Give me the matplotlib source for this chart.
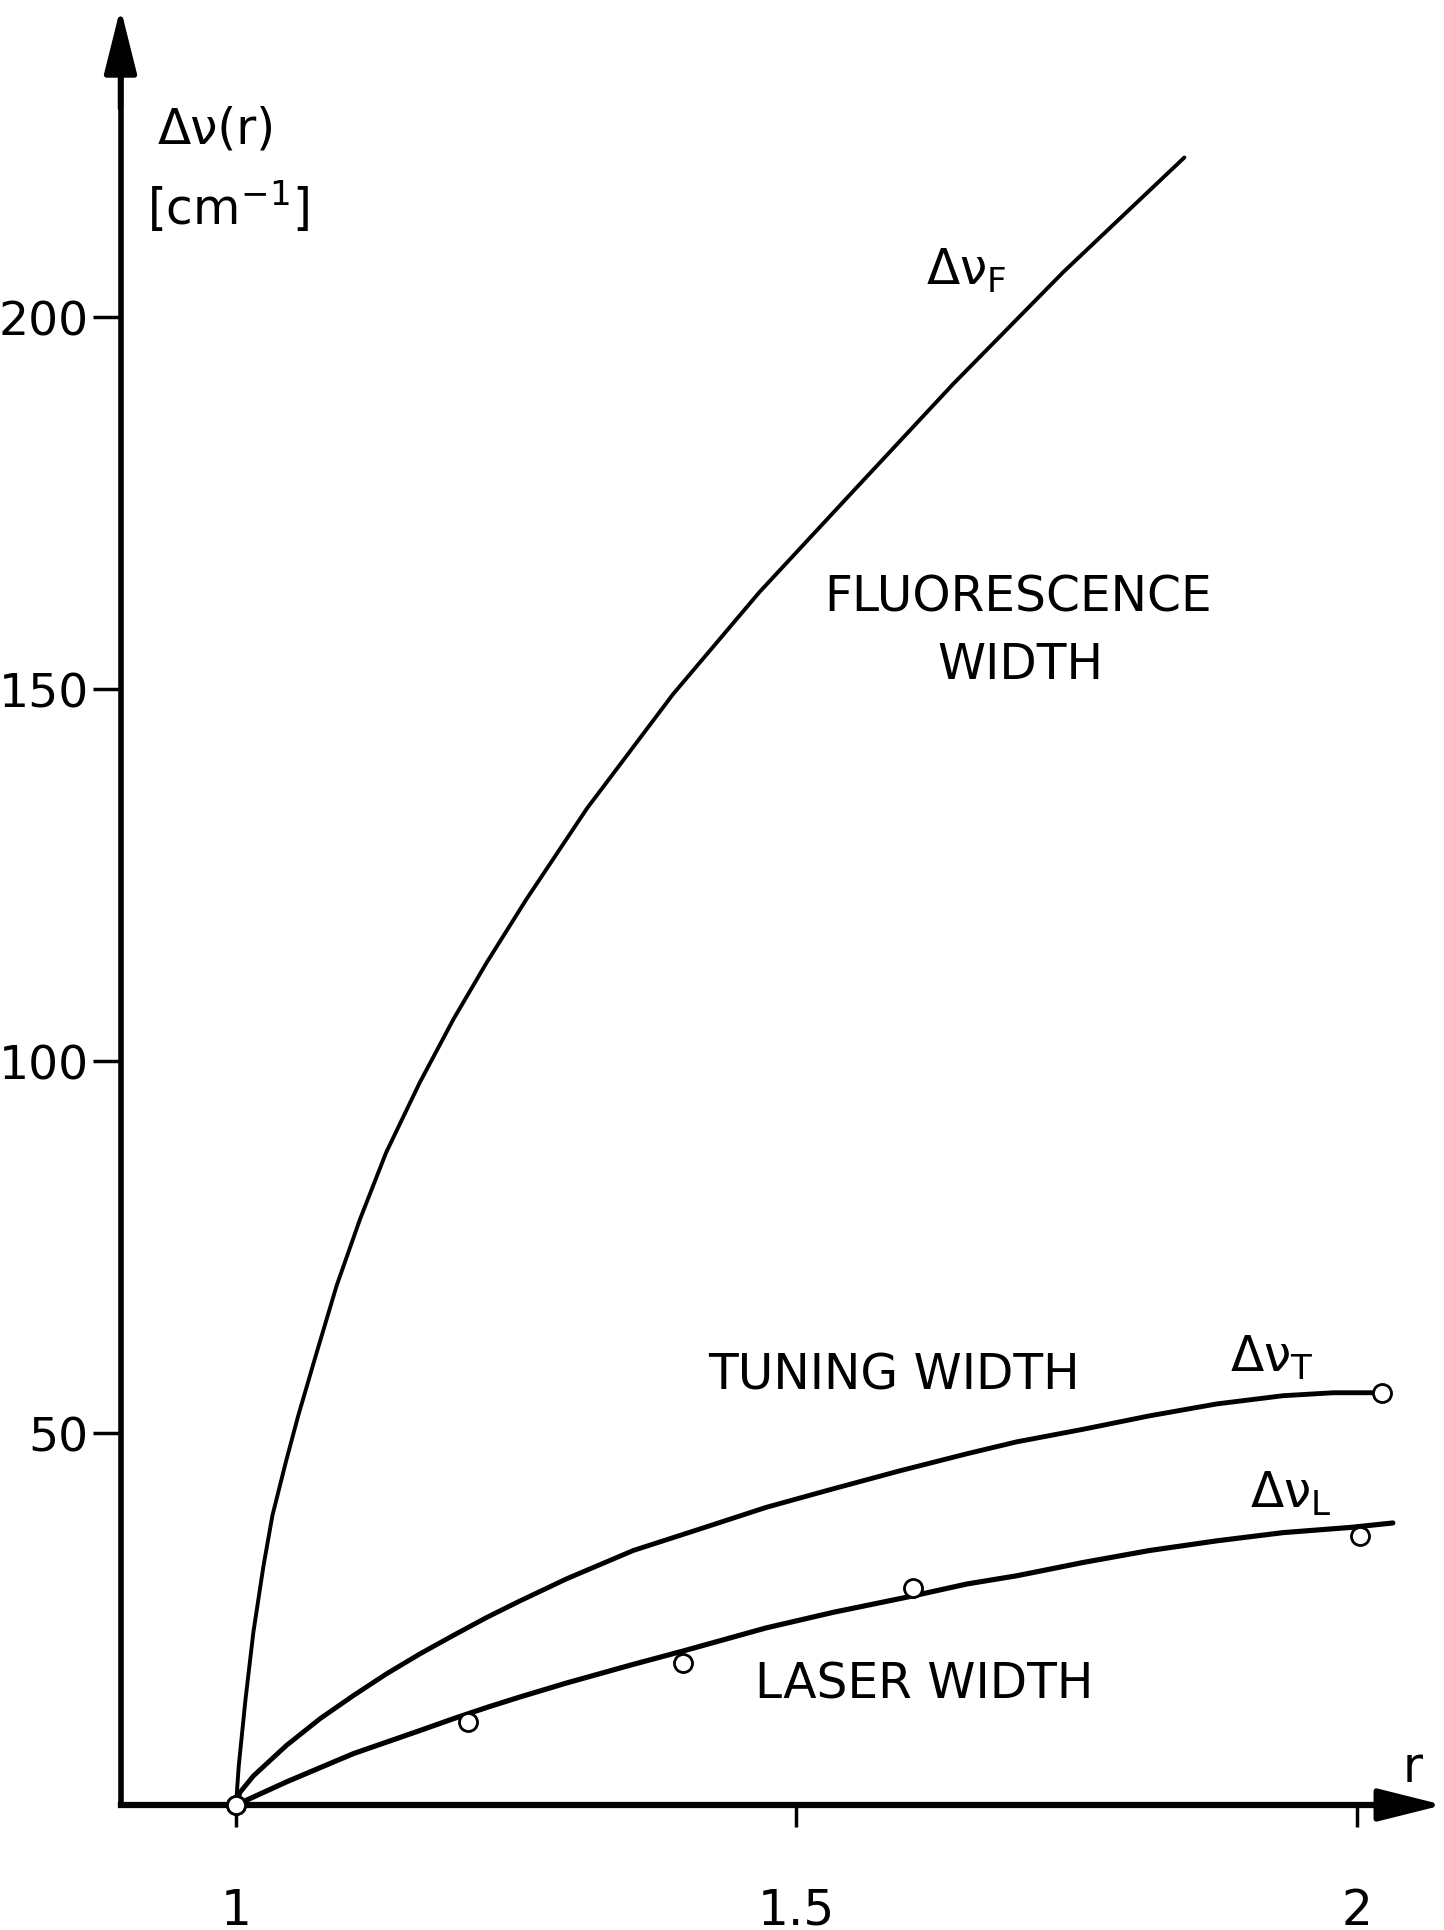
import matplotlib
matplotlib.use("Agg")
import matplotlib.pyplot as plt

plt.rcParams['font.family'] = ['DejaVu Sans']
plt.rcParams['mathtext.default'] = 'regular'

# fluorescence width
r_F = [1.0, 1.0025, 1.0085, 1.0155, 1.0245, 1.0325, 1.0445, 1.0555, 1.0712, 1.0898,
       1.1106, 1.134, 1.164, 1.194, 1.2236, 1.259, 1.313, 1.390, 1.467, 1.549,
       1.640, 1.738, 1.846]
v_F = [0, 5.3, 14.2, 23.2, 32.1, 38.9, 46.1, 52.3, 60.4, 69.8,
       78.7, 87.7, 97.1, 105.6, 113.2, 121.7, 133.9, 149.3, 163.0, 176.3,
       191.0, 206.0, 221.4]

# tuning width
r_T = [1.0, 1.0036, 1.0155, 1.045, 1.075, 1.1047, 1.134, 1.164, 1.194, 1.2236,
       1.253, 1.295, 1.3544, 1.414, 1.473, 1.533, 1.592, 1.652, 1.6964, 1.756,
       1.815, 1.875, 1.934, 1.979, 2.0145]
v_T = [0, 1.7, 3.9, 8.0, 11.6, 14.7, 17.6, 20.3, 22.8, 25.2,
       27.4, 30.4, 34.2, 37.1, 40.0, 42.5, 44.9, 47.2, 48.8, 50.5,
       52.3, 53.9, 55.0, 55.4, 55.4]
r_T_pts = [1.0, 2.022]
v_T_pts = [0, 55.4]

# laser width
r_L = [1.0, 1.045, 1.1047, 1.164, 1.194, 1.2236, 1.253, 1.295, 1.3544, 1.399,
       1.473, 1.533, 1.604, 1.652, 1.6964, 1.756, 1.815, 1.875, 1.934, 1.994, 2.032]
v_L = [0, 3.1, 6.9, 10.0, 11.6, 13.1, 14.5, 16.4, 18.9, 20.7,
       23.8, 25.9, 28.1, 29.7, 30.8, 32.6, 34.2, 35.5, 36.6, 37.3, 37.9]
r_L_pts = [1.0, 1.207, 1.399, 1.604, 2.0027]
v_L_pts = [0, 11.1, 19.1, 29.2, 36.2]

x_ticks = [1, 1.5, 2]
x_labels = ["1", "1.5", "2"]
y_ticks = [50, 100, 150, 200]
y_labels = ["50", "100", "150", "200"]

fig = plt.figure(figsize=(14.44, 19.31), dpi=100)
ax = fig.add_axes([0, 0, 1, 1])
ax.set_xlim(0.7895, 2.0776)
ax.set_ylim(-16.8, 242.7)

# axes with arrows
y_axis_x = 0.897
for s in ['top', 'right']:
    ax.spines[s].set_visible(False)
ax.spines['left'].set_position(('data', y_axis_x))
ax.spines['bottom'].set_position(('data', 0))
ax.spines['left'].set_bounds(0, 232)
ax.spines['bottom'].set_bounds(y_axis_x, 2.03)
ax.spines['left'].set_linewidth(4)
ax.spines['bottom'].set_linewidth(4.5)

arrow = dict(arrowstyle='-|>,head_length=0.8,head_width=0.2', color='k', lw=4,
             mutation_scale=50, shrinkA=0, shrinkB=0)
ax.annotate('', xy=(y_axis_x, 241.5), xytext=(y_axis_x, 228), arrowprops=arrow)
ax.annotate('', xy=(2.077, 0), xytext=(2.0, 0), arrowprops=arrow)

ax.set_xticks(x_ticks)
ax.set_xticklabels(x_labels)
ax.set_yticks(y_ticks)
ax.set_yticklabels(y_labels)
ax.tick_params(axis='y', direction='out', length=20, width=2.5, pad=3, labelsize=34)
ax.tick_params(axis='x', direction='out', length=16, width=2.5, pad=42, labelsize=35)

# curves
ax.plot(r_F, v_F, color='k', lw=2.8, solid_capstyle='round', solid_joinstyle='round')
ax.plot(r_T, v_T, color='k', lw=3.5, solid_capstyle='round', solid_joinstyle='round')
ax.plot(r_L, v_L, color='k', lw=3.7, solid_capstyle='round', solid_joinstyle='round')

mk = dict(linestyle='none', marker='o', markersize=13, markerfacecolor='white',
          markeredgecolor='k', markeredgewidth=2.0, zorder=5)
ax.plot(r_T_pts, v_T_pts, **mk)
ax.plot(r_L_pts, v_L_pts, **mk)

# labels
fs = 35
ax.text(0.930, 223.4, 'Δν(r)', ha='left', va='baseline', fontsize=35)
ax.text(0.921, 212.5, '[cm$^{-1}$]', ha='left', va='baseline', fontsize=35)
ax.text(1.6155, 204.4, 'Δν$_F$', ha='left', va='baseline', fontsize=fs)
ax.text(1.698, 160.5, 'FLUORESCENCE', ha='center', va='baseline', fontsize=fs)
ax.text(1.70, 151.4, 'WIDTH', ha='center', va='baseline', fontsize=fs)
ax.text(1.587, 56.0, 'TUNING WIDTH', ha='center', va='baseline', fontsize=fs)
ax.text(1.887, 58.3, 'Δν$_T$', ha='left', va='baseline', fontsize=fs)
ax.text(1.9045, 40.0, 'Δν$_L$', ha='left', va='baseline', fontsize=fs)
ax.text(1.614, 14.4, 'LASER WIDTH', ha='center', va='baseline', fontsize=fs)
ax.text(2.041, 3.2, 'r', ha='left', va='baseline', fontsize=35)

fig.savefig('out.png', dpi=100)
